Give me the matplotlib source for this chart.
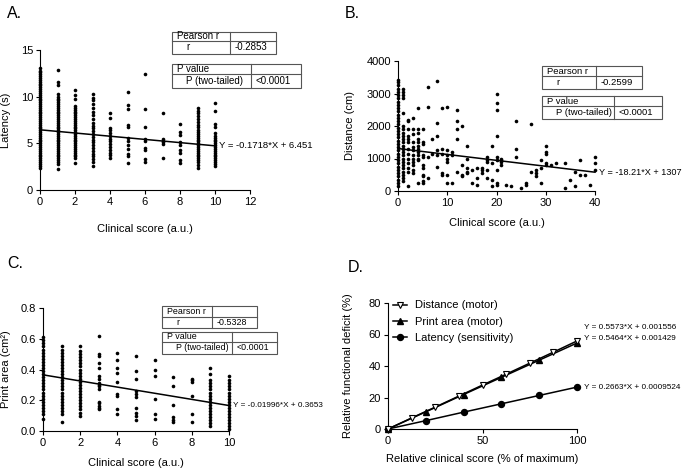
"""Four-panel correlation figure: clinical score vs behavioural readouts."""

import matplotlib

matplotlib.use("Agg")
import matplotlib.pyplot as plt
from matplotlib.patches import Rectangle

plt.rcParams["font.family"] = ["Liberation Sans", "DejaVu Sans"]

# ---- panel A: latency (s) per clinical score ----
lat_scores = [0, 1, 2, 3, 4, 5, 6, 7, 8, 9, 10]
lat_values = [
    [2.4, 2.6, 2.8, 3.0, 3.2, 3.4, 3.6, 3.8, 4.0, 4.2, 4.4, 4.6, 4.8, 5.0, 5.2, 5.4, 5.6, 5.8,
     6.0, 6.2, 6.4, 6.6, 6.8, 7.0, 7.2, 7.4, 7.6, 7.8, 8.0, 8.2, 8.4, 8.6, 8.8, 9.0, 9.2, 9.4,
     9.6, 9.8, 10.0, 10.2, 10.4, 10.6, 10.8, 11.0, 11.2, 11.4, 11.6, 11.8, 12.0, 12.2, 12.4,
     12.6, 12.8, 13.1],
    [2.3, 2.8, 3.0, 3.2, 3.4, 3.6, 3.8, 4.0, 4.2, 4.4, 4.6, 4.8, 5.0, 5.2, 5.4, 5.6, 5.8, 6.0,
     6.2, 6.4, 6.6, 6.8, 7.0, 7.2, 7.4, 7.6, 7.8, 8.0, 8.2, 8.4, 8.6, 8.8, 9.0, 9.2, 9.4, 9.6,
     9.8, 10.0, 10.3, 11.2, 11.6, 12.9],
    [2.9, 3.4, 3.6, 3.8, 4.0, 4.2, 4.4, 4.6, 4.8, 5.0, 5.2, 5.4, 5.6, 5.8, 6.0, 6.2, 6.4, 6.6,
     6.8, 7.0, 7.2, 7.4, 7.6, 7.8, 8.0, 8.2, 8.4, 8.6, 8.8, 9.0, 9.8, 10.2, 10.7],
    [2.6, 3.0, 3.3, 3.6, 3.9, 4.2, 4.5, 4.8, 5.1, 5.4, 5.7, 6.0, 6.3, 6.6, 6.9, 7.2, 7.6, 8.0,
     8.4, 8.8, 9.2, 9.6, 9.9, 10.3],
    [3.4, 3.7, 4.0, 4.3, 4.6, 4.9, 5.2, 5.5, 5.8, 6.1, 6.4, 6.6, 7.7, 8.2],
    [2.9, 3.6, 3.9, 4.4, 4.8, 5.2, 5.6, 6.8, 7.0, 8.7, 9.1, 10.5],
    [3.0, 3.3, 4.3, 4.5, 5.3, 5.5, 6.8, 8.7, 12.4],
    [3.4, 4.9, 5.1, 5.3, 5.5, 8.3],
    [2.9, 3.2, 4.0, 4.3, 4.8, 5.1, 5.9, 6.2, 7.1],
    [2.4, 2.7, 3.0, 3.2, 3.4, 3.6, 3.8, 4.0, 4.2, 4.4, 4.6, 4.8, 5.0, 5.2, 5.4, 5.6, 5.8, 6.0,
     6.2, 6.4, 6.7, 7.0, 7.3, 7.6, 7.9, 8.2, 8.5, 8.8],
    [2.6, 2.8, 3.0, 3.2, 3.4, 3.6, 3.8, 4.0, 4.2, 4.4, 4.6, 4.8, 5.0, 5.2, 5.4, 5.6, 5.8, 6.1,
     6.7, 7.1, 8.5, 9.3],
]
lat_fit = (-0.1718, 6.451)

# ---- panel B: distance (cm) per clinical score ----
dist_scores = [0, 1, 2, 3, 4, 5, 6, 7, 8, 9, 10, 11, 12, 13, 14, 15, 16, 17, 18, 19, 20,
               21, 22, 23, 24, 25, 26, 27, 28, 29, 30, 31, 32, 34, 35, 36, 37, 38, 39, 40]
dist_values = [
    [150, 250, 350, 450, 550, 650, 750, 850, 950, 1050, 1150, 1250, 1350, 1450, 1550, 1650,
     1750, 1850, 1950, 2050, 2150, 2250, 2350, 2450, 2550, 2650, 2750, 2850, 2950, 3050,
     3150, 3250, 3350, 3420],
    [300, 400, 500, 600, 700, 800, 900, 1000, 1100, 1200, 1300, 1400, 1500, 1600, 1700,
     1800, 1900, 2000, 2400, 2850, 2950, 3050, 3150],
    [150, 600, 700, 850, 1000, 1150, 1300, 1500, 1600, 1700, 1900, 2150, 2200],
    [550, 650, 800, 900, 1000, 1100, 1250, 1350, 1500, 1750, 1900, 2250],
    [250, 950, 1000, 1100, 1200, 1300, 1400, 1500, 1600, 1800, 1900, 2550],
    [250, 300, 450, 500, 700, 800, 1050, 1100, 1450, 1500, 1900],
    [400, 1050, 2600, 3200],
    [1150, 1600],
    [750, 1100, 1250, 1700, 2100, 3400],
    [500, 550, 1150, 1300, 2550],
    [250, 500, 900, 1000, 1100, 1250, 2600],
    [250, 1100, 1200],
    [600, 1600, 1900, 2150, 2500],
    [450, 500, 800, 2000],
    [550, 600, 700, 1000, 1400],
    [250, 650],
    [200, 400, 700],
    [550, 650, 700],
    [400, 650, 900, 950, 1050],
    [150, 350, 850, 1400],
    [200, 250, 650, 950, 1050, 1700, 2500, 2700, 3000],
    [800, 900, 950, 1000],
    [200],
    [150],
    [1050, 1300, 2150],
    [100],
    [200, 250],
    [600, 2050],
    [450, 550, 650],
    [250, 700, 950],
    [800, 850, 1150, 1200, 1400],
    [800],
    [850],
    [100, 850],
    [350],
    [150, 600],
    [500, 950],
    [500],
    [200],
    [650, 850, 1050],
]
dist_fit = (-18.21, 1307)

# ---- panel C: print area (cm2) per clinical score ----
area_scores = [0, 1, 2, 3, 4, 5, 6, 7, 8, 9, 10]
area_values = [
    [0.08, 0.11, 0.13, 0.15, 0.17, 0.19, 0.21, 0.23, 0.25, 0.27, 0.29, 0.31, 0.33, 0.35,
     0.37, 0.39, 0.41, 0.43, 0.45, 0.47, 0.49, 0.51, 0.53, 0.55, 0.57, 0.59, 0.61],
    [0.06, 0.11, 0.13, 0.15, 0.17, 0.19, 0.21, 0.23, 0.25, 0.27, 0.29, 0.31, 0.33, 0.35,
     0.37, 0.39, 0.41, 0.43, 0.45, 0.47, 0.49, 0.51, 0.53, 0.55],
    [0.10, 0.12, 0.14, 0.16, 0.18, 0.20, 0.22, 0.24, 0.26, 0.28, 0.30, 0.32, 0.34, 0.36,
     0.38, 0.40, 0.42, 0.44, 0.46, 0.48, 0.50, 0.52, 0.55],
    [0.14, 0.15, 0.16, 0.18, 0.19, 0.27, 0.29, 0.30, 0.31, 0.34, 0.36, 0.41, 0.44, 0.49,
     0.50, 0.62],
    [0.11, 0.14, 0.23, 0.24, 0.32, 0.38, 0.41, 0.46, 0.51],
    [0.07, 0.10, 0.12, 0.15, 0.22, 0.24, 0.26, 0.34, 0.39, 0.49],
    [0.08, 0.11, 0.21, 0.36, 0.40, 0.46],
    [0.06, 0.07, 0.09, 0.17, 0.29, 0.35],
    [0.06, 0.11, 0.23, 0.32, 0.33, 0.34],
    [0.03, 0.05, 0.07, 0.09, 0.11, 0.13, 0.15, 0.17, 0.19, 0.21, 0.23, 0.25, 0.27, 0.29,
     0.31, 0.33, 0.37, 0.41],
    [0.01, 0.03, 0.05, 0.07, 0.09, 0.11, 0.13, 0.15, 0.17, 0.19, 0.21, 0.23, 0.25, 0.27,
     0.29, 0.31, 0.33, 0.36],
]
area_fit = (-0.01996, 0.3653)

# ---- panel D: relative deficit vs relative clinical score ----
rel_dist_x = [0, 12.5, 25, 37.5, 50, 62.5, 75, 87.5, 100]
rel_dist_y = [0, 7.0, 13.9, 20.9, 27.9, 34.8, 41.8, 48.8, 55.9]
rel_area_x = [0, 20, 40, 60, 80, 100]
rel_area_y = [0, 10.9, 21.9, 32.8, 43.7, 54.6]
rel_lat_x = [0, 20, 40, 60, 80, 100]
rel_lat_y = [0, 5.3, 10.7, 16.0, 21.3, 26.6]

W, H = 685, 468
fig = plt.figure(figsize=(W / 100, H / 100), dpi=100)


def px_axes(left, top, right, bottom):
    """Create axes from pixel edges of the plotting box."""
    return fig.add_axes([left / W, 1 - bottom / H, (right - left) / W, (bottom - top) / H])


def style(ax, xlim, ylim, xticks, yticks, xlabel, ylabel, xl_y, yl_x):
    ax.set_xlim(*xlim)
    ax.set_ylim(*ylim)
    ax.set_xticks(xticks)
    ax.set_yticks(yticks)
    for side in ("top", "right"):
        ax.spines[side].set_visible(False)
    for side in ("left", "bottom"):
        ax.spines[side].set_linewidth(0.8)
    ax.tick_params(direction="out", length=3, width=0.8, labelsize=8, pad=2)
    ax.set_xlabel(xlabel, fontsize=8)
    ax.set_ylabel(ylabel, fontsize=8)
    ax.xaxis.set_label_coords(0.5, xl_y)
    ax.yaxis.set_label_coords(yl_x, 0.5)
    ax.patch.set_alpha(0)


def scatter_columns(ax, scores, values):
    xs, ys = [], []
    for s, vals in zip(scores, values):
        xs += [s] * len(vals)
        ys += vals
    ax.plot(xs, ys, "o", ms=2.6, mew=0, color="black", clip_on=False, zorder=3)


def fit_line(ax, fit, x_end, label, fs=6.8):
    slope, icpt = fit
    ax.plot([0, x_end], [icpt, icpt + slope * x_end], color="black", lw=1.1, zorder=4,
            clip_on=False)
    ax.annotate(label, xy=(x_end, icpt + slope * x_end), xytext=(3, 0),
                textcoords="offset points", va="center", fontsize=fs, annotation_clip=False)


# panel A
axA = px_axes(40, 50, 250, 190)
scatter_columns(axA, lat_scores, lat_values)
fit_line(axA, lat_fit, 10, "Y = -0.1718*X + 6.451")
style(axA, (0, 12), (0, 15), range(0, 13, 2), [0, 5, 10, 15],
      "Clinical score (a.u.)", "Latency (s)", -0.24, -0.14)

# panel B
axB = px_axes(398, 61, 595, 191)
scatter_columns(axB, dist_scores, dist_values)
fit_line(axB, dist_fit, 40, "Y = -18.21*X + 1307", fs=6.6)
style(axB, (0, 40), (0, 4000), [0, 10, 20, 30, 40], [0, 1000, 2000, 3000, 4000],
      "Clinical score (a.u.)", "Distance (cm)", -0.21, -0.22)

# panel C
axC = px_axes(43, 308, 229, 431)
scatter_columns(axC, area_scores, area_values)
fit_line(axC, area_fit, 10, "Y = -0.01996*X + 0.3653", fs=5.9)
style(axC, (0, 10), (0, 0.8), range(0, 11, 2), [0.0, 0.2, 0.4, 0.6, 0.8],
      "Clinical score (a.u.)", "Print area (cm²)", -0.22, -0.17)
axC.set_yticklabels(["0.0", "0.2", "0.4", "0.6", "0.8"])

# panel D
axD = px_axes(388, 303, 577, 429)
axD.plot(rel_dist_x, rel_dist_y, "-v", color="black", mfc="white", mec="black", mew=0.8,
         ms=4.5, lw=1.1, clip_on=False, zorder=4, label="Distance (motor)")
axD.plot(rel_area_x, rel_area_y, "-^", color="black", ms=4.2, lw=1.1, clip_on=False,
         zorder=3, label="Print area (motor)")
axD.plot(rel_lat_x, rel_lat_y, "-o", color="black", ms=4.3, lw=1.1, clip_on=False,
         zorder=3, label="Latency (sensitivity)")
style(axD, (0, 100), (0, 80), [0, 50, 100], [0, 20, 40, 60, 80],
      "Relative clinical score (% of maximum)", "Relative functional deficit (%)", -0.2, -0.185)
axD.legend(loc="upper left", bbox_to_anchor=(0.026, 1.02), frameon=False, fontsize=8,
           borderpad=0, borderaxespad=0, handlelength=1.3, handletextpad=0.7, labelspacing=0.55)
for txt, y_end, dy in (("Y = 0.5573*X + 0.001556", rel_dist_y[-1], 9.5),
                       ("Y = 0.5464*X + 0.001429", rel_area_y[-1], 3.5),
                       ("Y = 0.2663*X + 0.0009524", rel_lat_y[-1], 0)):
    axD.annotate(txt, xy=(100, y_end), xytext=(5, dy), textcoords="offset points",
                 va="center", fontsize=5.9, annotation_clip=False)

# overlay in pixel coordinates for statistics tables and panel letters
ov = fig.add_axes([0, 0, 1, 1], zorder=10)
ov.set_xlim(0, W)
ov.set_ylim(H, 0)
ov.axis("off")


def stats_table(left, top, mid_x, right, mid_y, bottom, rows, fs=7):
    ov.add_patch(Rectangle((left, top), right - left, bottom - top, facecolor="white",
                           edgecolor="#555555", lw=0.8))
    ov.plot([mid_x, mid_x], [top, bottom], color="#555555", lw=0.8)
    ov.plot([left, right], [mid_y, mid_y], color="#555555", lw=0.8)
    (h_left, h_right), (v_left, v_right) = rows
    ov.text(left + 5, (top + mid_y) / 2, h_left, fontsize=fs, va="center")
    ov.text(mid_x + 5, (top + mid_y) / 2, h_right, fontsize=fs, va="center")
    ov.text(left + 14, (mid_y + bottom) / 2, v_left, fontsize=fs, va="center")
    ov.text(mid_x + 5, (mid_y + bottom) / 2, v_right, fontsize=fs, va="center")


stats_table(172, 31.5, 230, 276, 41, 54, [("Pearson r", ""), ("r", "-0.2853")])
stats_table(172, 64, 251, 301, 73.5, 87.5, [("P value", ""), ("P (two-tailed)", "<0.0001")])
stats_table(542, 66, 596, 642, 76, 89, [("Pearson r", ""), ("r", "-0.2599")], fs=6.8)
stats_table(542, 96, 614, 662, 106, 119, [("P value", ""), ("P (two-tailed)", "<0.0001")],
            fs=6.8)
stats_table(162, 306, 212, 257, 317, 327.5, [("Pearson r", ""), ("r", "-0.5328")], fs=6.4)
stats_table(162, 332, 232, 277, 341.5, 353.5, [("P value", ""), ("P (two-tailed)", "<0.0001")],
            fs=6.4)

for letter, x, y in (("A.", 7, 14), ("B.", 345, 14), ("C.", 7, 263), ("D.", 348, 267)):
    ov.text(x, y, letter, fontsize=11.5, va="center", ha="left")

fig.savefig("out.png", dpi=100)
